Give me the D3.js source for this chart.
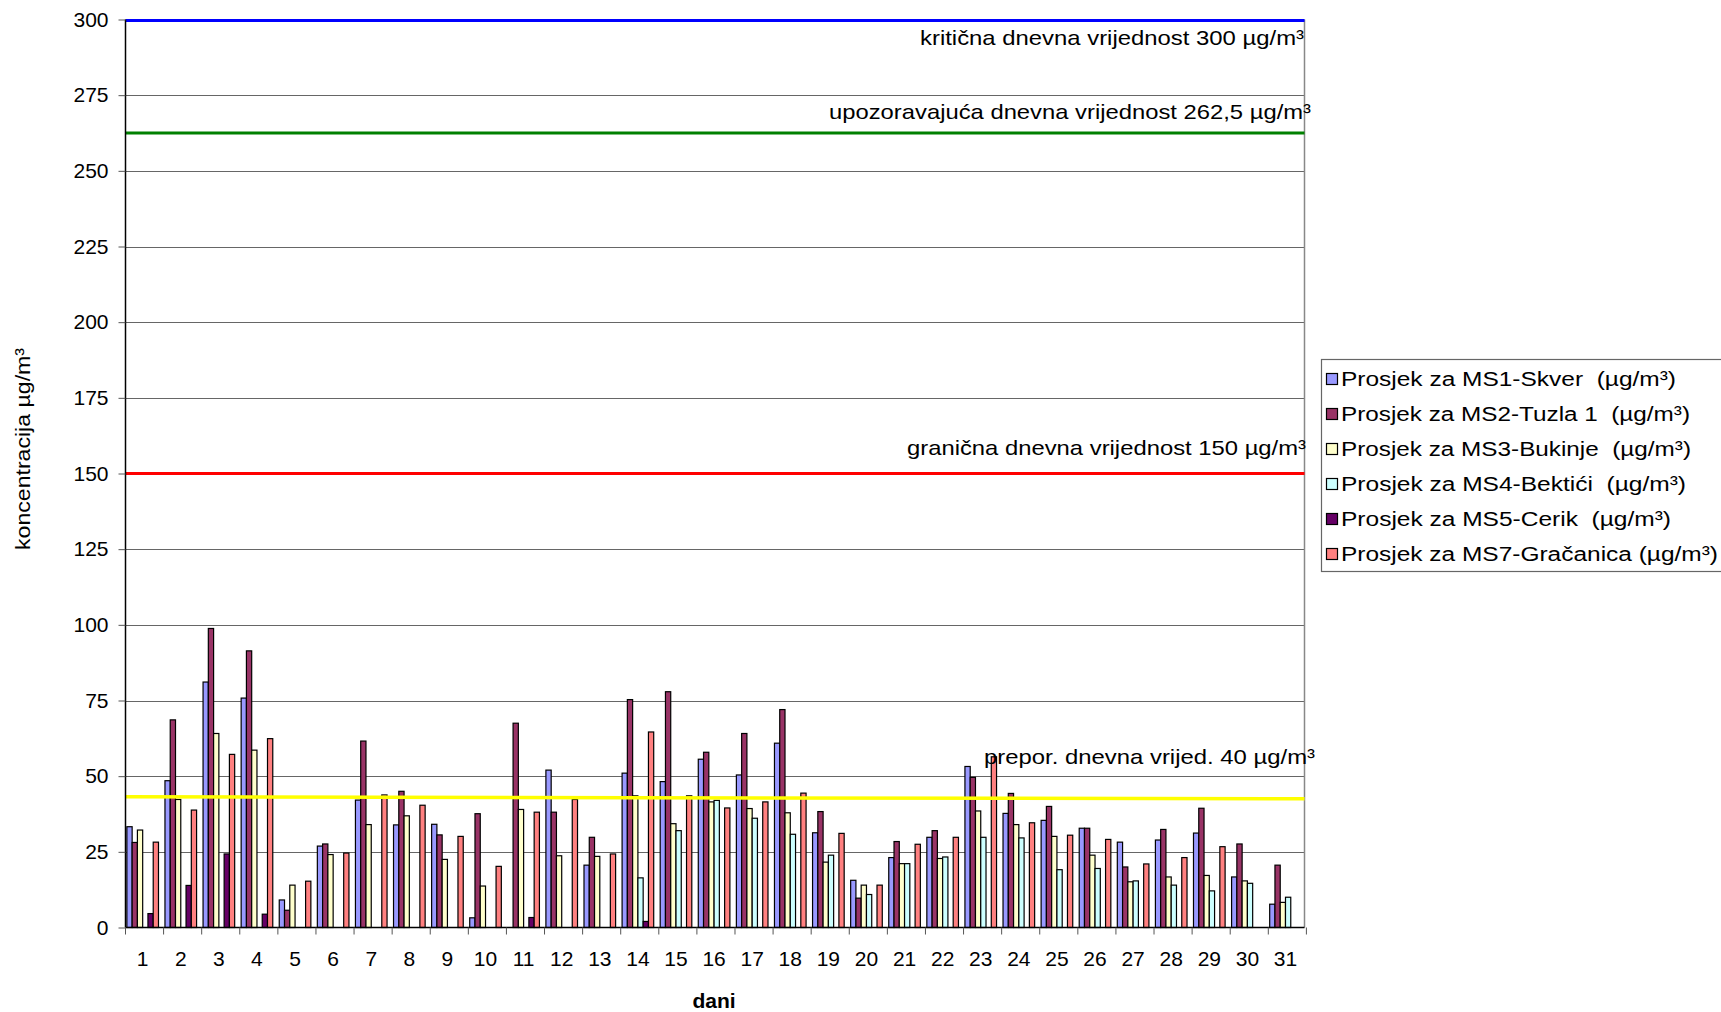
<!DOCTYPE html>
<html><head><meta charset="utf-8">
<script src="https://cdn.jsdelivr.net/npm/d3@7"></script>
<style>
html,body{margin:0;padding:0;background:#fff;}
svg text{font-family:"Liberation Sans",Arial,sans-serif;fill:#000;}
</style></head>
<body><svg id="c" width="1721" height="1012"></svg>
<script>
const days = ["1","2","3","4","5","6","7","8","9","10","11","12","13","14","15","16","17","18","19","20","21","22","23","24","25","26","27","28","29","30","31"];
const seriesNames = ["Prosjek za MS1-Skver  (µg/m³)","Prosjek za MS2-Tuzla 1  (µg/m³)","Prosjek za MS3-Bukinje  (µg/m³)","Prosjek za MS4-Bektići  (µg/m³)","Prosjek za MS5-Cerik  (µg/m³)","Prosjek za MS7-Gračanica (µg/m³)"];
const seriesColors = ["#9999FF","#993366","#FFFFCC","#CCFFFF","#660066","#FF8080"];
const ms1 = [33.3,48.5,81.1,75.8,9.1,26.9,42.1,33.9,34.1,3.2,null,52.0,20.6,51.0,48.2,55.6,50.4,60.9,31.3,15.6,23.1,29.8,53.2,37.7,35.4,32.8,28.2,28.9,31.2,16.7,7.7];
const ms2 = [28.1,68.6,98.8,91.4,5.7,27.6,61.6,45.0,30.6,37.6,67.5,38.1,29.8,75.3,77.9,57.9,64.1,72.0,38.3,9.7,28.4,32.0,49.6,44.3,40.0,32.8,20.0,32.4,39.4,27.6,20.6];
const ms3 = [32.2,42.3,64.1,58.6,14.0,24.1,34.0,36.9,22.5,13.7,39.0,23.7,23.5,43.5,34.3,41.5,39.3,37.9,21.6,14.0,21.1,22.8,38.5,34.0,30.1,23.9,15.1,16.7,17.2,15.4,8.3];
const ms4 = [null,null,null,null,null,null,null,null,null,null,null,null,null,16.4,32.0,42.0,36.1,30.8,23.9,10.9,21.1,23.3,29.8,29.6,19.1,19.5,15.4,14.0,12.1,14.6,10.0];
const ms5 = [4.6,13.9,24.3,4.4,null,null,null,null,null,null,3.3,null,null,2.0,null,null,null,null,null,null,null,null,null,null,null,null,null,null,null,null,null];
const ms7 = [28.2,38.8,57.2,62.4,15.3,24.6,43.8,40.4,30.1,20.2,38.1,42.3,24.3,64.6,43.5,39.5,41.5,44.4,31.1,14.0,27.5,29.8,56.4,34.6,30.5,29.1,21.0,23.1,26.7,null,null];
const yTicks = [0,25,50,75,100,125,150,175,200,225,250,275,300];
const limitValues = [300,262.5,150];
const limitColors = ["#0000FF","#008000","#FF0000"];
const limitLabels = ["kritična dnevna vrijednost 300 µg/m³","upozoravajuća dnevna vrijednost 262,5 µg/m³","granična dnevna vrijednost 150 µg/m³"];
const recLine = [43.2,42.5];
const recLabel = "prepor. dnevna vrijed. 40 µg/m³";

const allSeries = [ms1,ms2,ms3,ms4,ms5,ms7];
const svg = d3.select("#c");
const L=125.5, R=1304.5, T=19.5, B=927.5;
const y = d3.scaleLinear().domain([0,300]).range([B,T]);
const x0 = d3.scaleBand().domain(days).range([L,R]).paddingInner(0.17).paddingOuter(0.06).align(0.3);
const x1 = d3.scaleBand().domain(d3.range(6)).range([0,x0.bandwidth()]);

// gridlines
svg.append("g").selectAll("line").data(yTicks.filter(d=>d>0)).join("line")
  .attr("x1",L).attr("x2",R).attr("y1",d=>Math.round(y(d))+0.5).attr("y2",d=>Math.round(y(d))+0.5)
  .attr("stroke","#666").attr("stroke-width",1);
// right border
svg.append("line").attr("x1",R).attr("x2",R).attr("y1",T).attr("y2",B).attr("stroke","#888").attr("stroke-width",1.5);

// bars
const gBars = svg.append("g");
allSeries.forEach((s,si)=>{
  gBars.append("g").selectAll("rect").data(days.map((d,i)=>({d,v:s[i]})).filter(o=>o.v!=null)).join("rect")
    .attr("x",o=>x0(o.d)+x1(si)).attr("width",x1.bandwidth())
    .attr("y",o=>y(o.v)).attr("height",o=>B-y(o.v))
    .attr("fill",seriesColors[si]).attr("stroke","#000").attr("stroke-width",1.2);
});

// limit lines
limitValues.forEach((v,i)=>{
  svg.append("line").attr("x1",L).attr("x2",R).attr("y1",y(v)+(i===0?1:0)).attr("y2",y(v)+(i===0?1:0))
    .attr("stroke",limitColors[i]).attr("stroke-width",3);
});
svg.append("line").attr("x1",L).attr("x2",R).attr("y1",y(recLine[0])).attr("y2",y(recLine[1]))
  .attr("stroke","#FFFF00").attr("stroke-width",3.5);

// labels
const labelPos = [[920,45,384],[829,119,482],[907,455,399],[984,764,331]];
[...limitLabels,recLabel].forEach((t,i)=>{
  svg.append("text").attr("x",labelPos[i][0]).attr("y",labelPos[i][1]).attr("font-size",21)
    .attr("textLength",labelPos[i][2]).attr("lengthAdjust","spacingAndGlyphs").text(t);
});

// axes
const yAxis = svg.append("g").attr("transform",`translate(${L},0)`)
  .call(d3.axisLeft(y).tickValues(yTicks).tickSize(7).tickPadding(10).tickFormat(d3.format("d")));
yAxis.select(".domain").attr("stroke","#000").attr("stroke-width",1.5).attr("d",`M0,${T}V${B}`);
yAxis.selectAll(".tick line").attr("stroke","#555");
yAxis.selectAll("text").attr("font-size",21).style("font-family","Liberation Sans, Arial, sans-serif");

const xAxis = svg.append("g").attr("transform",`translate(0,${B})`)
  .call(d3.axisBottom(x0).tickSize(0).tickPadding(24));
xAxis.select(".domain").attr("stroke","#000").attr("stroke-width",1.5).attr("d",`M${L},0H${R}`);
xAxis.selectAll("text").attr("font-size",21).style("font-family","Liberation Sans, Arial, sans-serif");
const step = x0.step();
svg.append("g").selectAll("line").data(d3.range(days.length+1)).join("line")
  .attr("x1",i=>L+i*step).attr("x2",i=>L+i*step).attr("y1",B).attr("y2",B+7).attr("stroke","#555");

svg.append("text").attr("x",714).attr("y",1008).attr("text-anchor","middle").attr("font-size",21).attr("font-weight","bold").text("dani");
svg.append("text").attr("transform","translate(30,449) rotate(-90)").attr("text-anchor","middle").attr("font-size",20)
  .attr("textLength",202).attr("lengthAdjust","spacingAndGlyphs").text("koncentracija µg/m³");

// legend
const legendWidths = [335,349,350,345,330,377];
const lg = svg.append("g");
lg.append("rect").attr("x",1321.5).attr("y",359.5).attr("width",420).attr("height",212).attr("fill","#fff").attr("stroke","#666").attr("stroke-width",1.2);
seriesNames.forEach((n,i)=>{
  const cy = 379 + i*35;
  lg.append("rect").attr("x",1326.5).attr("y",cy-5.5).attr("width",11).attr("height",11).attr("fill",seriesColors[i]).attr("stroke","#000").attr("stroke-width",1.2);
  lg.append("text").attr("x",1341).attr("y",cy+7).attr("font-size",20).style("white-space","pre")
    .attr("textLength",legendWidths[i]).attr("lengthAdjust","spacingAndGlyphs").text(n);
});
</script></body></html>
